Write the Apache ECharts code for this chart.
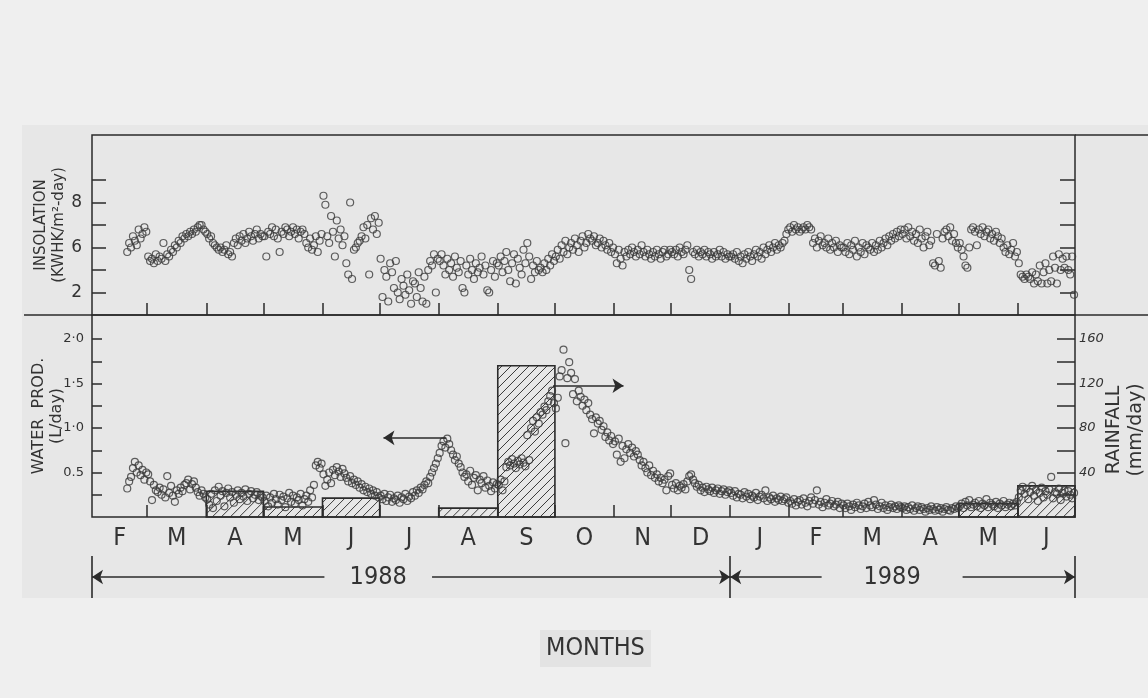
<!DOCTYPE html>
<html><head><meta charset="utf-8">
<script src="https://cdn.jsdelivr.net/npm/echarts@6/dist/echarts.min.js"></script>
<style>html,body{margin:0;padding:0;background:#efefef;}#c{width:1148px;height:698px;}</style>
</head><body><div id="c"></div>
<script>
// ---------- axis / category data ----------
const monthStarts = [0,29,60,90,121,151,182,213,243,274,304,335,366,394,425,455,486,516]; // day index from 1 Feb 1988
const monthLabels = ['F','M','A','M','J','J','A','S','O','N','D','J','F','M','A','M','J'];
const firstDay = 18; // first observation in Feb 1988

const insTickValues = [4,5,6,7,8,9];
const insLabelValues = [4,6,8];
const insLabelTexts = ['2','6','8'];
const watTickValues = [0.25,0.5,0.75,1.0,1.25,1.5,1.75,2.0];
const watLabelValues = [0.5,1.0,1.5,2.0];
const watLabelTexts = ['0.5','1·0','1·5','2·0'];
const rainTickValues = [20,40,60,80,100,120,140,160];
const rainLabelValues = [40,80,120,160];

// ---------- insolation (daily) ----------
const insFeb88 = [5.8,6.2,6.0,6.5,6.3,6.1,6.8,6.4,6.6,6.9,6.7];
const insMar88 = [5.6,5.4,5.5,5.3,5.7,5.4,5.6,5.5,6.2,5.4,5.7,5.6,5.9,5.8,6.1,6.0,6.3,6.2,6.5,6.4,6.6,6.5,6.7,6.6,6.8,6.7,6.9,7.0,7.0,6.8,6.7];
const insApr88 = [6.6,6.4,6.5,6.2,6.1,6.0,5.9,6.0,5.8,5.9,6.1,5.7,5.8,5.6,6.2,6.4,6.1,6.5,6.3,6.6,6.2,6.4,6.7,6.5,6.3,6.6,6.8,6.4,6.6,6.5];
const insMay88 = [6.5,5.6,6.7,6.6,6.9,6.5,6.8,6.4,5.8,6.7,6.6,6.9,6.8,6.5,6.7,6.9,6.6,6.8,6.4,6.7,6.8,6.6,6.2,6.0,6.4,5.9,6.1,6.5,5.8,6.3,6.6];
const insJun88 = [8.3,7.9,6.5,6.2,7.4,6.7,5.6,7.2,6.4,6.8,6.1,6.5,5.3,4.8,8.0,4.6,5.9,6.0,6.2,6.3,6.5,6.9,6.4,7.0,4.8,7.3,6.8,7.4,6.6,7.1];
const insJul88 = [5.5,3.8,5.0,4.7,3.6,5.3,4.9,4.2,5.4,4.0,3.7,4.6,4.3,3.9,4.8,4.1,3.5,4.5,4.4,3.8,4.9,4.2,3.6,4.7,3.5,5.0,5.4,5.2,5.7,4.0,5.5];
const insAug88 = [5.4,5.7,5.2,4.8,5.5,5.0,5.3,4.7,5.6,5.1,4.9,5.4,4.2,4.0,5.2,4.8,5.5,5.0,4.6,5.3,4.9,5.1,5.6,4.8,5.2,4.1,4.0,5.0,5.4,4.7,5.3];
const insSep88 = [5.2,5.6,4.9,5.4,5.8,5.0,4.5,5.3,5.7,4.4,5.5,5.1,4.8,5.9,5.3,6.2,5.6,4.6,5.2,4.9,5.4,5.0,5.1,4.9,5.3,5.0,5.5,5.2,5.7,5.4];
const insOct88 = [5.6,5.9,5.5,6.1,5.8,6.3,5.7,6.0,6.2,5.9,6.4,6.1,5.8,6.3,6.5,6.0,6.2,6.6,6.4,6.3,6.5,6.1,6.2,6.4,6.0,6.3,6.1,5.9,6.2,5.8,6.0];
const insNov88 = [5.7,5.3,5.9,5.5,5.2,5.8,5.6,5.9,5.7,6.0,5.8,5.6,5.9,5.7,6.1,5.8,5.6,5.9,5.7,5.5,5.8,5.6,5.9,5.7,5.5,5.8,5.9,5.6,5.7,5.9];
const insDec88 = [5.8,5.7,5.9,5.6,6.0,5.8,5.7,5.9,6.1,5.0,4.6,5.8,5.7,5.9,5.6,5.8,5.7,5.9,5.6,5.8,5.7,5.5,5.8,5.6,5.7,5.9,5.6,5.8,5.5,5.7,5.6];
const insJan89 = [5.6,5.7,5.5,5.8,5.4,5.6,5.3,5.7,5.5,5.8,5.6,5.4,5.7,5.9,5.6,5.8,5.5,6.0,5.7,5.9,6.1,5.8,6.0,6.2,5.9,6.1,6.0,6.2,6.3,6.6,6.8];
const insFeb89 = [6.9,6.7,7.0,6.8,6.9,6.7,6.8,6.9,6.8,7.0,6.9,6.8,6.2,6.4,6.0,6.3,6.5,6.1,6.2,6.0,6.4,5.9,6.2,6.0,6.3,5.8,6.1,6.0];
const insMar89 = [6.0,5.8,6.2,5.7,6.1,5.9,6.3,5.6,6.0,5.8,6.2,5.7,6.1,6.0,5.9,6.2,5.8,6.1,5.9,6.3,6.0,6.2,6.4,6.1,6.5,6.3,6.6,6.4,6.7,6.5,6.8];
const insApr89 = [6.6,6.8,6.4,6.9,6.5,6.7,6.3,6.6,6.2,6.8,6.4,6.0,6.5,6.7,6.1,6.3,5.3,5.2,6.6,5.4,5.1,6.4,6.7,6.8,6.5,6.9,6.3,6.6,6.2,6.0];
const insMay89 = [6.2,5.9,5.6,5.2,5.1,6.0,6.8,6.9,6.7,6.1,6.8,6.6,6.9,6.5,6.7,6.8,6.4,6.6,6.3,6.7,6.5,6.2,6.4,6.0,5.8,6.1,5.7,5.9,6.2,5.6,5.8];
const insJun89 = [5.3,4.8,4.7,4.6,4.8,4.7,4.6,4.9,4.4,4.8,4.5,5.2,4.4,4.9,5.3,4.4,5.0,4.5,5.6,5.1,4.4,5.7,5.0,5.5,5.1,5.6,5.0,4.8,5.6,3.9];

// ---------- water production (daily, L/day) ----------
const watFeb88 = [0.32,0.40,0.45,0.55,0.62,0.50,0.58,0.47,0.53,0.42,0.50];
const watMar88 = [0.48,0.40,0.19,0.36,0.30,0.28,0.33,0.25,0.31,0.22,0.46,0.27,0.35,0.24,0.17,0.30,0.26,0.33,0.29,0.36,0.38,0.42,0.31,0.37,0.40,0.33,0.28,0.24,0.30,0.26,0.22];
const watApr88 = [0.20,0.14,0.26,0.10,0.30,0.18,0.34,0.24,0.29,0.12,0.27,0.32,0.22,0.28,0.16,0.25,0.30,0.20,0.27,0.23,0.31,0.18,0.26,0.29,0.21,0.25,0.28,0.19,0.24,0.22];
const watMay88 = [0.18,0.24,0.12,0.22,0.16,0.26,0.20,0.14,0.25,0.19,0.23,0.11,0.21,0.27,0.17,0.24,0.15,0.22,0.19,0.26,0.13,0.20,0.24,0.17,0.30,0.22,0.36,0.58,0.62,0.55,0.60];
const watJun88 = [0.48,0.35,0.42,0.50,0.38,0.53,0.47,0.56,0.51,0.45,0.54,0.49,0.44,0.40,0.46,0.38,0.42,0.36,0.40,0.33,0.37,0.30,0.34,0.28,0.32,0.26,0.30,0.24,0.28,0.22];
const watJul88 = [0.24,0.20,0.26,0.18,0.22,0.25,0.17,0.21,0.19,0.24,0.16,0.22,0.20,0.26,0.18,0.23,0.21,0.28,0.24,0.30,0.27,0.33,0.31,0.36,0.40,0.38,0.45,0.50,0.55,0.60,0.66];
const watAug88 = [0.72,0.80,0.85,0.78,0.88,0.82,0.75,0.70,0.64,0.68,0.60,0.56,0.50,0.45,0.48,0.40,0.52,0.36,0.44,0.47,0.30,0.42,0.38,0.46,0.33,0.41,0.35,0.29,0.39,0.32,0.37];
const watSep88 = [0.36,0.42,0.30,0.40,0.56,0.62,0.58,0.65,0.60,0.55,0.63,0.59,0.66,0.61,0.57,0.92,0.64,1.00,1.08,0.96,1.12,1.05,1.18,1.15,1.24,1.20,1.30,1.36,1.42,1.28];
const watOct88 = [1.22,1.34,1.58,1.65,1.88,0.83,1.56,1.74,1.62,1.38,1.55,1.30,1.42,1.35,1.25,1.32,1.20,1.28,1.15,1.10,0.94,1.12,1.05,1.08,0.98,1.02,0.90,0.95,0.86,0.91,0.82];
const watNov88 = [0.85,0.70,0.88,0.62,0.80,0.66,0.76,0.82,0.72,0.78,0.68,0.74,0.70,0.64,0.58,0.62,0.55,0.50,0.58,0.47,0.52,0.44,0.48,0.40,0.44,0.38,0.42,0.30,0.46,0.49];
const watDec88 = [0.36,0.32,0.38,0.30,0.35,0.33,0.37,0.31,0.40,0.46,0.48,0.42,0.38,0.34,0.36,0.30,0.33,0.28,0.34,0.31,0.29,0.33,0.27,0.30,0.32,0.26,0.29,0.31,0.25,0.28,0.30];
const watJan89 = [0.27,0.24,0.29,0.22,0.26,0.25,0.21,0.28,0.23,0.26,0.20,0.24,0.22,0.27,0.19,0.23,0.25,0.21,0.30,0.18,0.22,0.20,0.24,0.17,0.21,0.19,0.23,0.18,0.20,0.22,0.16];
const watFeb89 = [0.18,0.15,0.20,0.13,0.17,0.19,0.14,0.21,0.16,0.12,0.18,0.22,0.15,0.19,0.30,0.14,0.17,0.11,0.16,0.20,0.13,0.15,0.18,0.12,0.14,0.17,0.10,0.15];
const watMar89 = [0.13,0.10,0.15,0.12,0.08,0.14,0.11,0.16,0.13,0.09,0.12,0.15,0.10,0.17,0.13,0.11,0.19,0.14,0.09,0.12,0.16,0.10,0.13,0.08,0.11,0.14,0.10,0.12,0.09,0.13,0.11];
const watApr89 = [0.10,0.12,0.08,0.11,0.09,0.13,0.07,0.10,0.12,0.08,0.11,0.09,0.06,0.10,0.08,0.12,0.09,0.07,0.11,0.08,0.10,0.06,0.09,0.11,0.08,0.07,0.10,0.09,0.12,0.10];
const watMay89 = [0.12,0.15,0.10,0.17,0.13,0.19,0.11,0.14,0.16,0.12,0.18,0.10,0.15,0.13,0.20,0.11,0.16,0.14,0.12,0.17,0.10,0.15,0.13,0.18,0.11,0.14,0.16,0.12,0.15,0.13,0.17];
const watJun89 = [0.22,0.30,0.34,0.26,0.32,0.20,0.28,0.35,0.24,0.30,0.18,0.27,0.33,0.22,0.29,0.25,0.31,0.45,0.21,0.28,0.26,0.32,0.19,0.27,0.30,0.23,0.29,0.25,0.21,0.27];

// ---------- monthly rainfall (mm/day), one per month Feb88..Jun89 ----------
const rainfall = [0,0,23,9,17,0,8,136,0,0,0,0,0,0,0,12,28];

// ---------- annotations (data space) ----------
const waterArrow = [[186,0.89],[153,0.89]];   // points to left axis
const rainArrow = [[242,118],[279,118]];      // points to right axis
const yearNames = ['1988','1989'];
const yearBounds = [0,335,516];
const yearTextGaps = [[122,178.5],[383,457]];

// ---------- build ----------
const insMonths = [insFeb88,insMar88,insApr88,insMay88,insJun88,insJul88,insAug88,insSep88,insOct88,insNov88,insDec88,insJan89,insFeb89,insMar89,insApr89,insMay89,insJun89];
const watMonths = [watFeb88,watMar88,watApr88,watMay88,watJun88,watJul88,watAug88,watSep88,watOct88,watNov88,watDec88,watJan89,watFeb89,watMar89,watApr89,watMay89,watJun89];
function toPoints(months){
  const out=[];
  months.forEach((arr,m)=>{
    const start = m===0 ? firstDay : monthStarts[m];
    arr.forEach((v,i)=>out.push([start+i+0.5, v]));
  });
  return out;
}
const insPoints = toPoints(insMonths);
const watPoints = toPoints(watMonths);
const rainBars = [];
rainfall.forEach((r,m)=>{ if(r>0) rainBars.push([monthStarts[m], monthStarts[m+1], r]); });
const monthMids = monthLabels.map((_,i)=>(monthStarts[i]+monthStarts[i+1])/2);
const innerStarts = monthStarts.slice(1,-1);

function lookup(vals, texts){
  return function(v){ const i = vals.findIndex(u=>Math.abs(u-v)<1e-6); return i>=0 ? texts[i] : ''; };
}
const INK = '#2b2b2b';
const HAND = '"Liberation Sans Narrow","DejaVu Sans Condensed","Roboto Condensed","Liberation Sans",sans-serif';
const LAB = '"DejaVu Sans",sans-serif';
const DAYMAX = monthStarts[monthStarts.length-1];

const chart = echarts.init(document.getElementById('c'), null, {renderer:'canvas'});
const yearLineData = [];
yearNames.forEach((name,k)=>{
  const a = yearBounds[k], b = yearBounds[k+1], g = yearTextGaps[k];
  yearLineData.push([{coord:[a,0.5], symbol:'arrow', name:''},{coord:[g[0],0.5], symbol:'none'}]);
  yearLineData.push([{coord:[g[0],0.5], symbol:'none', name:name, lineStyle:{color:'rgba(0,0,0,0)'}},{coord:[g[1],0.5], symbol:'none'}]);
  yearLineData.push([{coord:[g[1],0.5], symbol:'none', name:''},{coord:[b,0.5], symbol:'arrow'}]);
});

const option = {
  backgroundColor:'#efefef',
  animation:false,
  title:{text:'MONTHS', left:540, top:630, padding:[6,6],
    backgroundColor:'#e3e3e3',
    textStyle:{fontFamily:HAND, fontSize:25, fontWeight:'normal', color:'#333'}},
  graphic:[
    {type:'rect', z:-100, silent:true, shape:{x:22,y:125,width:1126,height:473}, style:{fill:'#e7e7e7'}},
    {type:'line', silent:true, shape:{x1:24,y1:315,x2:92,y2:315}, style:{stroke:INK,lineWidth:1.5}},
    {type:'line', silent:true, shape:{x1:1075,y1:315,x2:1148,y2:315}, style:{stroke:INK,lineWidth:1.3}},
    {type:'line', silent:true, shape:{x1:1075,y1:135,x2:1148,y2:135}, style:{stroke:INK,lineWidth:1.3}}
  ],
  grid:[
    {left:92, top:135, width:983, height:180, show:true, borderColor:INK, borderWidth:1.5, backgroundColor:'transparent', outerBoundsMode:'none', containLabel:false},
    {left:92, top:315, width:983, height:202, show:true, borderColor:INK, borderWidth:1.5, backgroundColor:'transparent', outerBoundsMode:'none', containLabel:false},
    {left:92, top:556, width:983, height:42, show:false, outerBoundsMode:'none', containLabel:false}
  ],
  xAxis:[
    {gridIndex:0, type:'value', min:0, max:DAYMAX, axisLine:{show:false}, splitLine:{show:false},
     axisTick:{show:true, inside:true, length:12, customValues:innerStarts, lineStyle:{color:INK,width:1.5}},
     axisLabel:{show:false}},
    {gridIndex:1, type:'value', min:0, max:DAYMAX, axisLine:{show:false}, splitLine:{show:false},
     axisTick:{show:true, inside:true, length:12, customValues:innerStarts, lineStyle:{color:INK,width:1.5}},
     axisLabel:{show:true, customValues:monthMids, margin:9, fontFamily:HAND, fontSize:25, color:'#333',
       formatter:lookup(monthMids, monthLabels)}},
    {gridIndex:2, type:'value', min:0, max:DAYMAX, show:false}
  ],
  yAxis:[
    {gridIndex:0, type:'value', min:3, max:11, position:'left', axisLine:{show:false}, splitLine:{show:false},
     axisTick:{show:true, inside:true, length:14, customValues:insTickValues, lineStyle:{color:INK,width:1.5}},
     axisLabel:{show:true, customValues:insLabelValues, margin:10, fontFamily:LAB, fontSize:17, color:'#333',
       formatter:lookup(insLabelValues, insLabelTexts)},
     name:'INSOLATION\n(KWHK/m²-day)', nameLocation:'middle', nameRotate:90, nameGap:24, nameMoveOverlap:false,
     nameTextStyle:{fontFamily:LAB, fontSize:15, lineHeight:18, color:'#333'}},
    {gridIndex:0, type:'value', min:3, max:11, position:'right', axisLine:{show:false}, splitLine:{show:false},
     axisTick:{show:true, inside:true, length:15, customValues:insTickValues, lineStyle:{color:INK,width:1.5}},
     axisLabel:{show:false}},
    {gridIndex:1, type:'value', min:0, max:2.27, position:'left', axisLine:{show:false}, splitLine:{show:false},
     axisTick:{show:true, inside:true, length:10, customValues:watTickValues, lineStyle:{color:INK,width:1.5}},
     axisLabel:{show:true, customValues:watLabelValues, margin:8, fontFamily:LAB, fontSize:13, color:'#333',
       formatter:lookup(watLabelValues, watLabelTexts)},
     name:'WATER  PROD.\n(L/day)', nameLocation:'middle', nameRotate:90, nameGap:26, nameMoveOverlap:false,
     nameTextStyle:{fontFamily:LAB, fontSize:16, lineHeight:18, color:'#333'}},
    {gridIndex:1, type:'value', min:0, max:181.6, position:'right', axisLine:{show:false}, splitLine:{show:false},
     axisTick:{show:true, inside:true, length:18, customValues:rainTickValues, lineStyle:{color:INK,width:1.5}},
     axisLabel:{show:true, customValues:rainLabelValues, margin:4, fontFamily:LAB, fontStyle:'italic', fontSize:13, color:'#333'},
     name:'RAINFALL\n(mm/day)', nameLocation:'middle', nameRotate:90, nameGap:28, nameMoveOverlap:false,
     nameTextStyle:{fontFamily:LAB, fontSize:19, lineHeight:22, color:'#333', padding:[0,28,0,0]}},
    {gridIndex:2, type:'value', min:0, max:1, show:false}
  ],
  series:[
    {type:'scatter', name:'Insolation', xAxisIndex:0, yAxisIndex:0, data:insPoints, symbol:'circle', symbolSize:7, silent:true,
     itemStyle:{color:'rgba(0,0,0,0)', borderColor:'#3a3a3a', borderWidth:1.2}},
    {type:'custom', name:'Rainfall', xAxisIndex:1, yAxisIndex:3, data:rainBars, silent:true, z:1,
     renderItem:function(params, api){
       const p0 = api.coord([api.value(0), 0]);
       const p1 = api.coord([api.value(1), api.value(2)]);
       const L=p0[0], R=p1[0], B=p0[1], T=p1[1];
       const kids=[];
       const step=9;
       for(let c=L+T+step/2; c<R+B; c+=step){
         const xa=Math.max(L, c-B), xb=Math.min(R, c-T);
         if(xb>xa) kids.push({type:'line', shape:{x1:xa,y1:c-xa,x2:xb,y2:c-xb}, style:{stroke:'#3a3a3a', lineWidth:1}});
       }
       kids.push({type:'rect', shape:{x:L,y:T,width:R-L,height:B-T}, style:{fill:'none', stroke:INK, lineWidth:1.6}});
       return {type:'group', children:kids};
     },
     markLine:{silent:true, symbol:['none','arrow'], symbolSize:11, label:{show:false},
       lineStyle:{color:INK, width:1.6, type:'solid'},
       data:[[{coord:rainArrow[0]},{coord:rainArrow[1]}]]}},
    {type:'scatter', name:'Water production', xAxisIndex:1, yAxisIndex:2, data:watPoints, symbol:'circle', symbolSize:7, silent:true, z:3,
     itemStyle:{color:'rgba(0,0,0,0)', borderColor:'#3a3a3a', borderWidth:1.2},
     markLine:{silent:true, symbol:['none','arrow'], symbolSize:11, label:{show:false},
       lineStyle:{color:INK, width:1.6, type:'solid'},
       data:[[{coord:waterArrow[0]},{coord:waterArrow[1]}]]}},
    {type:'line', xAxisIndex:2, yAxisIndex:4, data:[[0,0.5],[DAYMAX,0.5]], showSymbol:false, silent:true,
     lineStyle:{opacity:0},
     markLine:{silent:true, symbolSize:11, animation:false,
       lineStyle:{color:INK, width:1.6, type:'solid'},
       label:{show:true, position:'middle', distance:0, verticalAlign:'middle', align:'center',
         formatter:function(p){return p.name||'';},
         fontFamily:HAND, fontSize:25, color:'#333'},
       data:yearLineData}},
    {type:'line', xAxisIndex:2, yAxisIndex:4, data:[], showSymbol:false, silent:true,
     markLine:{silent:true, symbol:['none','none'], label:{show:false},
       lineStyle:{color:INK, width:1.6, type:'solid'},
       data:yearBounds.map(d=>({xAxis:d}))}}
  ]
};
chart.setOption(option);
</script></body></html>
